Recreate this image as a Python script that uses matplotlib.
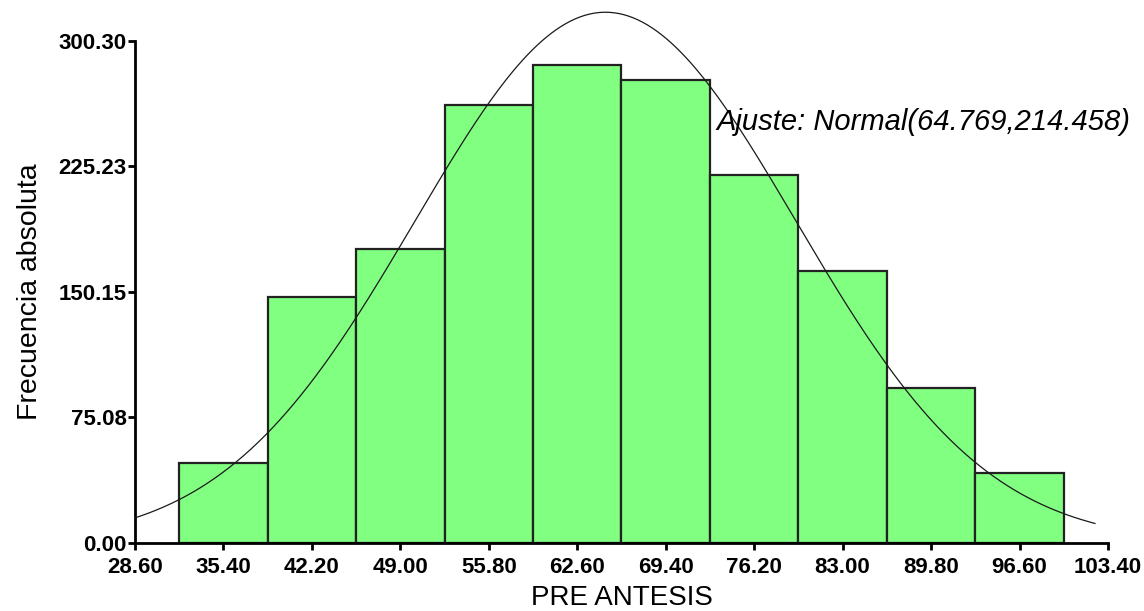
import numpy as np
import matplotlib
matplotlib.use("Agg")
from matplotlib import pyplot as plt

plt.rcParams['font.family'] = ['Liberation Sans', 'DejaVu Sans']

# histogram of PRE ANTESIS, class width 6.8
bin_starts = [32.0, 38.8, 45.6, 52.4, 59.2, 66.0, 72.8, 79.6, 86.4, 93.2]
counts = [48, 147, 176, 262, 286, 277, 220, 163, 93, 42]
bin_width = 6.8

# fitted normal (mean, variance)
fit_mean = 64.769
fit_var = 214.458

x_ticks = [28.60, 35.40, 42.20, 49.00, 55.80, 62.60, 69.40, 76.20, 83.00, 89.80, 96.60, 103.40]
y_ticks = [0.00, 75.08, 150.15, 225.23, 300.30]

fig = plt.figure(figsize=(11.44, 6.11), dpi=100)
ax = fig.add_axes([0.118, 0.1113, 0.8505, 0.8216])

ax.bar(bin_starts, counts, width=bin_width, align='edge',
       color='#80ff80', edgecolor='#222222', linewidth=1.6, zorder=2)

# normal curve scaled to the histogram
sd = np.sqrt(fit_var)
xs = np.linspace(28.6, 102.4, 400)
ys = sum(counts) * bin_width * np.exp(-0.5 * ((xs - fit_mean) / sd) ** 2) / (sd * np.sqrt(2 * np.pi))
ax.plot(xs, ys, color='#1a1a1a', linewidth=0.9, clip_on=False, zorder=3)

ax.text(73.3, 247, 'Ajuste: Normal(64.769,214.458)', fontsize=21,
        style='italic', va='baseline', ha='left', zorder=4)

ax.set_xlim(28.6, 103.4)
ax.set_ylim(0, 300.3)
ax.set_xticks(x_ticks)
ax.set_xticklabels([f'{v:.2f}' for v in x_ticks])
ax.set_yticks(y_ticks)
ax.set_yticklabels([f'{v:.2f}' for v in y_ticks])

for side in ['top', 'right']:
    ax.spines[side].set_visible(False)
for side in ['left', 'bottom']:
    ax.spines[side].set_linewidth(2)
    ax.spines[side].set_color('black')

ax.tick_params(direction='out', length=5, width=2, labelsize=16)
ax.tick_params(axis='x', pad=5)
ax.tick_params(axis='y', pad=1)
for lbl in ax.get_xticklabels() + ax.get_yticklabels():
    lbl.set_fontweight('bold')

ax.set_xlabel('PRE ANTESIS', fontsize=20, labelpad=5)
ax.set_ylabel('Frecuencia absoluta', fontsize=20.5, labelpad=11)

fig.savefig('out.png', dpi=100)
